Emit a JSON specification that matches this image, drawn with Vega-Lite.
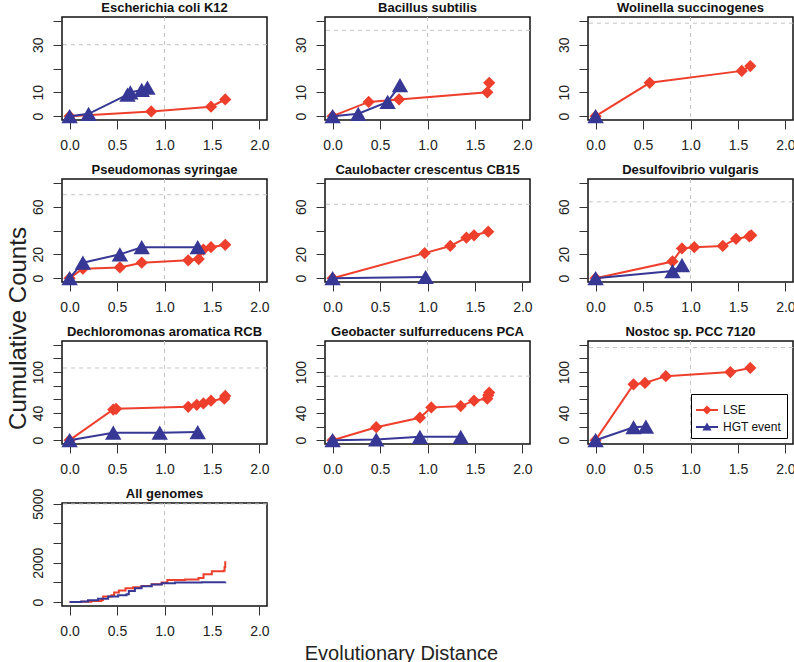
{
"$schema": "https://vega.github.io/schema/vega-lite/v6.json",
"padding": {"left": 5, "top": 0, "right": 0, "bottom": 0},
"background": "white",
"datasets": {
"refs": [
{"p":"E","x":1,"y":30},{"p":"B","x":1,"y":36},{"p":"W","x":1,"y":39},
{"p":"P","x":1,"y":70},{"p":"C","x":1,"y":62},{"p":"D","x":1,"y":64},
{"p":"De","x":1,"y":106},{"p":"G","x":1,"y":94},{"p":"N","x":1,"y":136},
{"p":"A","x":1,"y":4990}
],
"pts": [
{"p":"E","s":"LSE","x":0,"y":0},{"p":"E","s":"LSE","x":0.86,"y":2},{"p":"E","s":"LSE","x":1.49,"y":4},{"p":"E","s":"LSE","x":1.64,"y":7},
{"p":"E","s":"HGT event","x":0,"y":0},{"p":"E","s":"HGT event","x":0.2,"y":1},{"p":"E","s":"HGT event","x":0.61,"y":9},{"p":"E","s":"HGT event","x":0.64,"y":10},{"p":"E","s":"HGT event","x":0.76,"y":11},{"p":"E","s":"HGT event","x":0.82,"y":12},
{"p":"B","s":"LSE","x":0,"y":0},{"p":"B","s":"LSE","x":0.38,"y":6},{"p":"B","s":"LSE","x":0.7,"y":7},{"p":"B","s":"LSE","x":1.63,"y":10},{"p":"B","s":"LSE","x":1.65,"y":14},
{"p":"B","s":"HGT event","x":0,"y":0},{"p":"B","s":"HGT event","x":0.27,"y":1},{"p":"B","s":"HGT event","x":0.58,"y":6},{"p":"B","s":"HGT event","x":0.71,"y":13},
{"p":"W","s":"LSE","x":0,"y":0},{"p":"W","s":"LSE","x":0.57,"y":14},{"p":"W","s":"LSE","x":1.54,"y":19},{"p":"W","s":"LSE","x":1.63,"y":21},
{"p":"W","s":"HGT event","x":0,"y":0},
{"p":"P","s":"LSE","x":0,"y":0},{"p":"P","s":"LSE","x":0.14,"y":8},{"p":"P","s":"LSE","x":0.53,"y":9},{"p":"P","s":"LSE","x":0.76,"y":13},{"p":"P","s":"LSE","x":1.25,"y":15},{"p":"P","s":"LSE","x":1.36,"y":16},{"p":"P","s":"LSE","x":1.41,"y":24},{"p":"P","s":"LSE","x":1.49,"y":26},{"p":"P","s":"LSE","x":1.64,"y":28},
{"p":"P","s":"HGT event","x":0,"y":0},{"p":"P","s":"HGT event","x":0.14,"y":13},{"p":"P","s":"HGT event","x":0.53,"y":20},{"p":"P","s":"HGT event","x":0.76,"y":26},{"p":"P","s":"HGT event","x":1.35,"y":26},
{"p":"C","s":"LSE","x":0,"y":0},{"p":"C","s":"LSE","x":0.97,"y":21},{"p":"C","s":"LSE","x":1.24,"y":27},{"p":"C","s":"LSE","x":1.41,"y":34},{"p":"C","s":"LSE","x":1.49,"y":36},{"p":"C","s":"LSE","x":1.64,"y":39},
{"p":"C","s":"HGT event","x":0,"y":0},{"p":"C","s":"HGT event","x":0.98,"y":1},
{"p":"D","s":"LSE","x":0,"y":0},{"p":"D","s":"LSE","x":0.81,"y":14},{"p":"D","s":"LSE","x":0.91,"y":25},{"p":"D","s":"LSE","x":1.04,"y":26},{"p":"D","s":"LSE","x":1.34,"y":27},{"p":"D","s":"LSE","x":1.48,"y":33},{"p":"D","s":"LSE","x":1.62,"y":35},{"p":"D","s":"LSE","x":1.64,"y":36},
{"p":"D","s":"HGT event","x":0,"y":0},{"p":"D","s":"HGT event","x":0.81,"y":6},{"p":"D","s":"HGT event","x":0.91,"y":11},
{"p":"De","s":"LSE","x":0,"y":0},{"p":"De","s":"LSE","x":0.46,"y":45},{"p":"De","s":"LSE","x":0.49,"y":46},{"p":"De","s":"LSE","x":1.25,"y":49},{"p":"De","s":"LSE","x":1.34,"y":52},{"p":"De","s":"LSE","x":1.41,"y":54},{"p":"De","s":"LSE","x":1.49,"y":58},{"p":"De","s":"LSE","x":1.63,"y":61},{"p":"De","s":"LSE","x":1.64,"y":65},
{"p":"De","s":"HGT event","x":0,"y":0},{"p":"De","s":"HGT event","x":0.46,"y":11},{"p":"De","s":"HGT event","x":0.95,"y":11},{"p":"De","s":"HGT event","x":1.35,"y":12},
{"p":"G","s":"LSE","x":0,"y":0},{"p":"G","s":"LSE","x":0.46,"y":19},{"p":"G","s":"LSE","x":0.92,"y":33},{"p":"G","s":"LSE","x":1.04,"y":48},{"p":"G","s":"LSE","x":1.35,"y":50},{"p":"G","s":"LSE","x":1.49,"y":58},{"p":"G","s":"LSE","x":1.63,"y":61},{"p":"G","s":"LSE","x":1.64,"y":66},{"p":"G","s":"LSE","x":1.65,"y":70},
{"p":"G","s":"HGT event","x":0,"y":0},{"p":"G","s":"HGT event","x":0.46,"y":1},{"p":"G","s":"HGT event","x":0.92,"y":5},{"p":"G","s":"HGT event","x":1.35,"y":5},
{"p":"N","s":"LSE","x":0,"y":0},{"p":"N","s":"LSE","x":0.4,"y":82},{"p":"N","s":"LSE","x":0.52,"y":84},{"p":"N","s":"LSE","x":0.74,"y":94},{"p":"N","s":"LSE","x":1.42,"y":100},{"p":"N","s":"LSE","x":1.63,"y":106},
{"p":"N","s":"HGT event","x":0,"y":0},{"p":"N","s":"HGT event","x":0.4,"y":19},{"p":"N","s":"HGT event","x":0.53,"y":20},
{"p":"A","s":"LSE","x":0,"y":0},{"p":"A","s":"LSE","x":0.123,"y":17},{"p":"A","s":"LSE","x":0.229,"y":52},{"p":"A","s":"LSE","x":0.335,"y":105},{"p":"A","s":"LSE","x":0.353,"y":280},{"p":"A","s":"LSE","x":0.441,"y":350},{"p":"A","s":"LSE","x":0.469,"y":490},{"p":"A","s":"LSE","x":0.519,"y":594},{"p":"A","s":"LSE","x":0.589,"y":700},{"p":"A","s":"LSE","x":0.67,"y":752},{"p":"A","s":"LSE","x":0.758,"y":822},{"p":"A","s":"LSE","x":0.864,"y":909},{"p":"A","s":"LSE","x":0.97,"y":997},{"p":"A","s":"LSE","x":1.03,"y":1119},{"p":"A","s":"LSE","x":1.217,"y":1154},{"p":"A","s":"LSE","x":1.358,"y":1224},{"p":"A","s":"LSE","x":1.411,"y":1416},{"p":"A","s":"LSE","x":1.499,"y":1573},{"p":"A","s":"LSE","x":1.623,"y":1591},{"p":"A","s":"LSE","x":1.633,"y":1783},{"p":"A","s":"LSE","x":1.64,"y":2080},
{"p":"A","s":"HGT event","x":0,"y":0},{"p":"A","s":"HGT event","x":0.123,"y":35},{"p":"A","s":"HGT event","x":0.194,"y":87},{"p":"A","s":"HGT event","x":0.3,"y":175},{"p":"A","s":"HGT event","x":0.406,"y":280},{"p":"A","s":"HGT event","x":0.511,"y":350},{"p":"A","s":"HGT event","x":0.6,"y":402},{"p":"A","s":"HGT event","x":0.624,"y":559},{"p":"A","s":"HGT event","x":0.688,"y":700},{"p":"A","s":"HGT event","x":0.758,"y":804},{"p":"A","s":"HGT event","x":0.864,"y":892},{"p":"A","s":"HGT event","x":0.97,"y":962},{"p":"A","s":"HGT event","x":1.111,"y":997},{"p":"A","s":"HGT event","x":1.393,"y":1014},{"p":"A","s":"HGT event","x":1.64,"y":1031}
]
},
"columns": 3,
"bounds": "flush",
"spacing": {"row": 59, "column": 58},
"resolve": {"scale": {"color": "independent", "shape": "independent"}, "legend": {"color": "independent", "shape": "independent"}},
"concat": [
{"title":"Escherichia coli K12","width":205,"height":103,"layer":[
{"data":{"name":"refs"},"transform":[{"filter":"datum.p==='E'"}],"mark":{"type":"rule","stroke":"#c4c4c4","strokeDash":[4,4]},"encoding":{"x":{"field":"x","type":"quantitative","title":null,"scale":{"domain":[-0.08,2.08],"nice":false,"zero":false},"axis":{"values":[0,0.5,1,1.5,2],"format":".1f"}}}},
{"data":{"name":"refs"},"transform":[{"filter":"datum.p==='E'"}],"mark":{"type":"rule","stroke":"#c4c4c4","strokeDash":[4,4]},"encoding":{"y":{"field":"y","type":"quantitative","title":null,"scale":{"domain":[-1.6,41.6],"nice":false,"zero":false},"axis":{"values":[0,10,20,30,40],"labelExpr":"datum.value==20||datum.value==40?'':datum.label"}}}},
{"data":{"name":"pts"},"transform":[{"filter":"datum.p==='E'&&datum.s==='LSE'"}],"mark":{"type":"line","stroke":"#EE3F2D","strokeWidth":2},"encoding":{"x":{"field":"x","type":"quantitative","title":null,"scale":{"domain":[-0.08,2.08],"nice":false,"zero":false},"axis":{"values":[0,0.5,1,1.5,2],"format":".1f"}},"y":{"field":"y","type":"quantitative","title":null,"scale":{"domain":[-1.6,41.6],"nice":false,"zero":false},"axis":{"values":[0,10,20,30,40],"labelExpr":"datum.value==20||datum.value==40?'':datum.label"}}}},
{"data":{"name":"pts"},"transform":[{"filter":"datum.p==='E'&&datum.s==='LSE'"}],"mark":{"type":"point","shape":"diamond","filled":true,"size":150,"color":"#EE3F2D","opacity":1},"encoding":{"x":{"field":"x","type":"quantitative","title":null,"scale":{"domain":[-0.08,2.08],"nice":false,"zero":false},"axis":{"values":[0,0.5,1,1.5,2],"format":".1f"}},"y":{"field":"y","type":"quantitative","title":null,"scale":{"domain":[-1.6,41.6],"nice":false,"zero":false},"axis":{"values":[0,10,20,30,40],"labelExpr":"datum.value==20||datum.value==40?'':datum.label"}}}},
{"data":{"name":"pts"},"transform":[{"filter":"datum.p==='E'&&datum.s==='HGT event'"}],"mark":{"type":"line","stroke":"#373895","strokeWidth":2},"encoding":{"x":{"field":"x","type":"quantitative","title":null,"scale":{"domain":[-0.08,2.08],"nice":false,"zero":false},"axis":{"values":[0,0.5,1,1.5,2],"format":".1f"}},"y":{"field":"y","type":"quantitative","title":null,"scale":{"domain":[-1.6,41.6],"nice":false,"zero":false},"axis":{"values":[0,10,20,30,40],"labelExpr":"datum.value==20||datum.value==40?'':datum.label"}}}},
{"data":{"name":"pts"},"transform":[{"filter":"datum.p==='E'&&datum.s==='HGT event'"}],"mark":{"type":"point","shape":"triangle-up","filled":true,"size":270,"color":"#373895","opacity":1},"encoding":{"x":{"field":"x","type":"quantitative","title":null,"scale":{"domain":[-0.08,2.08],"nice":false,"zero":false},"axis":{"values":[0,0.5,1,1.5,2],"format":".1f"}},"y":{"field":"y","type":"quantitative","title":null,"scale":{"domain":[-1.6,41.6],"nice":false,"zero":false},"axis":{"values":[0,10,20,30,40],"labelExpr":"datum.value==20||datum.value==40?'':datum.label"}}}}
]},
{"title":"Bacillus subtilis","width":205,"height":103,"layer":[
{"data":{"name":"refs"},"transform":[{"filter":"datum.p==='B'"}],"mark":{"type":"rule","stroke":"#c4c4c4","strokeDash":[4,4]},"encoding":{"x":{"field":"x","type":"quantitative","title":null,"scale":{"domain":[-0.08,2.08],"nice":false,"zero":false},"axis":{"values":[0,0.5,1,1.5,2],"format":".1f"}}}},
{"data":{"name":"refs"},"transform":[{"filter":"datum.p==='B'"}],"mark":{"type":"rule","stroke":"#c4c4c4","strokeDash":[4,4]},"encoding":{"y":{"field":"y","type":"quantitative","title":null,"scale":{"domain":[-1.6,41.6],"nice":false,"zero":false},"axis":{"values":[0,10,20,30,40],"labelExpr":"datum.value==20||datum.value==40?'':datum.label"}}}},
{"data":{"name":"pts"},"transform":[{"filter":"datum.p==='B'&&datum.s==='LSE'"}],"mark":{"type":"line","stroke":"#EE3F2D","strokeWidth":2},"encoding":{"x":{"field":"x","type":"quantitative","title":null,"scale":{"domain":[-0.08,2.08],"nice":false,"zero":false},"axis":{"values":[0,0.5,1,1.5,2],"format":".1f"}},"y":{"field":"y","type":"quantitative","title":null,"scale":{"domain":[-1.6,41.6],"nice":false,"zero":false},"axis":{"values":[0,10,20,30,40],"labelExpr":"datum.value==20||datum.value==40?'':datum.label"}}}},
{"data":{"name":"pts"},"transform":[{"filter":"datum.p==='B'&&datum.s==='LSE'"}],"mark":{"type":"point","shape":"diamond","filled":true,"size":150,"color":"#EE3F2D","opacity":1},"encoding":{"x":{"field":"x","type":"quantitative","title":null,"scale":{"domain":[-0.08,2.08],"nice":false,"zero":false},"axis":{"values":[0,0.5,1,1.5,2],"format":".1f"}},"y":{"field":"y","type":"quantitative","title":null,"scale":{"domain":[-1.6,41.6],"nice":false,"zero":false},"axis":{"values":[0,10,20,30,40],"labelExpr":"datum.value==20||datum.value==40?'':datum.label"}}}},
{"data":{"name":"pts"},"transform":[{"filter":"datum.p==='B'&&datum.s==='HGT event'"}],"mark":{"type":"line","stroke":"#373895","strokeWidth":2},"encoding":{"x":{"field":"x","type":"quantitative","title":null,"scale":{"domain":[-0.08,2.08],"nice":false,"zero":false},"axis":{"values":[0,0.5,1,1.5,2],"format":".1f"}},"y":{"field":"y","type":"quantitative","title":null,"scale":{"domain":[-1.6,41.6],"nice":false,"zero":false},"axis":{"values":[0,10,20,30,40],"labelExpr":"datum.value==20||datum.value==40?'':datum.label"}}}},
{"data":{"name":"pts"},"transform":[{"filter":"datum.p==='B'&&datum.s==='HGT event'"}],"mark":{"type":"point","shape":"triangle-up","filled":true,"size":270,"color":"#373895","opacity":1},"encoding":{"x":{"field":"x","type":"quantitative","title":null,"scale":{"domain":[-0.08,2.08],"nice":false,"zero":false},"axis":{"values":[0,0.5,1,1.5,2],"format":".1f"}},"y":{"field":"y","type":"quantitative","title":null,"scale":{"domain":[-1.6,41.6],"nice":false,"zero":false},"axis":{"values":[0,10,20,30,40],"labelExpr":"datum.value==20||datum.value==40?'':datum.label"}}}}
]},
{"title":"Wolinella succinogenes","width":205,"height":103,"layer":[
{"data":{"name":"refs"},"transform":[{"filter":"datum.p==='W'"}],"mark":{"type":"rule","stroke":"#c4c4c4","strokeDash":[4,4]},"encoding":{"x":{"field":"x","type":"quantitative","title":null,"scale":{"domain":[-0.08,2.08],"nice":false,"zero":false},"axis":{"values":[0,0.5,1,1.5,2],"format":".1f"}}}},
{"data":{"name":"refs"},"transform":[{"filter":"datum.p==='W'"}],"mark":{"type":"rule","stroke":"#c4c4c4","strokeDash":[4,4]},"encoding":{"y":{"field":"y","type":"quantitative","title":null,"scale":{"domain":[-1.6,41.6],"nice":false,"zero":false},"axis":{"values":[0,10,20,30,40],"labelExpr":"datum.value==20||datum.value==40?'':datum.label"}}}},
{"data":{"name":"pts"},"transform":[{"filter":"datum.p==='W'&&datum.s==='LSE'"}],"mark":{"type":"line","stroke":"#EE3F2D","strokeWidth":2},"encoding":{"x":{"field":"x","type":"quantitative","title":null,"scale":{"domain":[-0.08,2.08],"nice":false,"zero":false},"axis":{"values":[0,0.5,1,1.5,2],"format":".1f"}},"y":{"field":"y","type":"quantitative","title":null,"scale":{"domain":[-1.6,41.6],"nice":false,"zero":false},"axis":{"values":[0,10,20,30,40],"labelExpr":"datum.value==20||datum.value==40?'':datum.label"}}}},
{"data":{"name":"pts"},"transform":[{"filter":"datum.p==='W'&&datum.s==='LSE'"}],"mark":{"type":"point","shape":"diamond","filled":true,"size":150,"color":"#EE3F2D","opacity":1},"encoding":{"x":{"field":"x","type":"quantitative","title":null,"scale":{"domain":[-0.08,2.08],"nice":false,"zero":false},"axis":{"values":[0,0.5,1,1.5,2],"format":".1f"}},"y":{"field":"y","type":"quantitative","title":null,"scale":{"domain":[-1.6,41.6],"nice":false,"zero":false},"axis":{"values":[0,10,20,30,40],"labelExpr":"datum.value==20||datum.value==40?'':datum.label"}}}},
{"data":{"name":"pts"},"transform":[{"filter":"datum.p==='W'&&datum.s==='HGT event'"}],"mark":{"type":"point","shape":"triangle-up","filled":true,"size":270,"color":"#373895","opacity":1},"encoding":{"x":{"field":"x","type":"quantitative","title":null,"scale":{"domain":[-0.08,2.08],"nice":false,"zero":false},"axis":{"values":[0,0.5,1,1.5,2],"format":".1f"}},"y":{"field":"y","type":"quantitative","title":null,"scale":{"domain":[-1.6,41.6],"nice":false,"zero":false},"axis":{"values":[0,10,20,30,40],"labelExpr":"datum.value==20||datum.value==40?'':datum.label"}}}}
]},
{"title":"Pseudomonas syringae","width":205,"height":103,"layer":[
{"data":{"name":"refs"},"transform":[{"filter":"datum.p==='P'"}],"mark":{"type":"rule","stroke":"#c4c4c4","strokeDash":[4,4]},"encoding":{"x":{"field":"x","type":"quantitative","title":null,"scale":{"domain":[-0.08,2.08],"nice":false,"zero":false},"axis":{"values":[0,0.5,1,1.5,2],"format":".1f"}}}},
{"data":{"name":"refs"},"transform":[{"filter":"datum.p==='P'"}],"mark":{"type":"rule","stroke":"#c4c4c4","strokeDash":[4,4]},"encoding":{"y":{"field":"y","type":"quantitative","title":"Cumulative Counts","scale":{"domain":[-3.2,83.2],"nice":false,"zero":false},"axis":{"values":[0,20,40,60,80],"labelExpr":"datum.value==40||datum.value==80?'':datum.label","titleX":-44,"titleY":149,"titleFontSize":24,"titleFontWeight":"normal","titleAngle":270,"titleAlign":"center","titleBaseline":"middle","titleColor":"#222"}}}},
{"data":{"name":"pts"},"transform":[{"filter":"datum.p==='P'&&datum.s==='LSE'"}],"mark":{"type":"line","stroke":"#EE3F2D","strokeWidth":2},"encoding":{"x":{"field":"x","type":"quantitative","title":null,"scale":{"domain":[-0.08,2.08],"nice":false,"zero":false},"axis":{"values":[0,0.5,1,1.5,2],"format":".1f"}},"y":{"field":"y","type":"quantitative","title":"Cumulative Counts","scale":{"domain":[-3.2,83.2],"nice":false,"zero":false},"axis":{"values":[0,20,40,60,80],"labelExpr":"datum.value==40||datum.value==80?'':datum.label","titleX":-44,"titleY":149,"titleFontSize":24,"titleFontWeight":"normal","titleAngle":270,"titleAlign":"center","titleBaseline":"middle","titleColor":"#222"}}}},
{"data":{"name":"pts"},"transform":[{"filter":"datum.p==='P'&&datum.s==='LSE'"}],"mark":{"type":"point","shape":"diamond","filled":true,"size":150,"color":"#EE3F2D","opacity":1},"encoding":{"x":{"field":"x","type":"quantitative","title":null,"scale":{"domain":[-0.08,2.08],"nice":false,"zero":false},"axis":{"values":[0,0.5,1,1.5,2],"format":".1f"}},"y":{"field":"y","type":"quantitative","title":"Cumulative Counts","scale":{"domain":[-3.2,83.2],"nice":false,"zero":false},"axis":{"values":[0,20,40,60,80],"labelExpr":"datum.value==40||datum.value==80?'':datum.label","titleX":-44,"titleY":149,"titleFontSize":24,"titleFontWeight":"normal","titleAngle":270,"titleAlign":"center","titleBaseline":"middle","titleColor":"#222"}}}},
{"data":{"name":"pts"},"transform":[{"filter":"datum.p==='P'&&datum.s==='HGT event'"}],"mark":{"type":"line","stroke":"#373895","strokeWidth":2},"encoding":{"x":{"field":"x","type":"quantitative","title":null,"scale":{"domain":[-0.08,2.08],"nice":false,"zero":false},"axis":{"values":[0,0.5,1,1.5,2],"format":".1f"}},"y":{"field":"y","type":"quantitative","title":"Cumulative Counts","scale":{"domain":[-3.2,83.2],"nice":false,"zero":false},"axis":{"values":[0,20,40,60,80],"labelExpr":"datum.value==40||datum.value==80?'':datum.label","titleX":-44,"titleY":149,"titleFontSize":24,"titleFontWeight":"normal","titleAngle":270,"titleAlign":"center","titleBaseline":"middle","titleColor":"#222"}}}},
{"data":{"name":"pts"},"transform":[{"filter":"datum.p==='P'&&datum.s==='HGT event'"}],"mark":{"type":"point","shape":"triangle-up","filled":true,"size":270,"color":"#373895","opacity":1},"encoding":{"x":{"field":"x","type":"quantitative","title":null,"scale":{"domain":[-0.08,2.08],"nice":false,"zero":false},"axis":{"values":[0,0.5,1,1.5,2],"format":".1f"}},"y":{"field":"y","type":"quantitative","title":"Cumulative Counts","scale":{"domain":[-3.2,83.2],"nice":false,"zero":false},"axis":{"values":[0,20,40,60,80],"labelExpr":"datum.value==40||datum.value==80?'':datum.label","titleX":-44,"titleY":149,"titleFontSize":24,"titleFontWeight":"normal","titleAngle":270,"titleAlign":"center","titleBaseline":"middle","titleColor":"#222"}}}}
]},
{"title":"Caulobacter crescentus CB15","width":205,"height":103,"layer":[
{"data":{"name":"refs"},"transform":[{"filter":"datum.p==='C'"}],"mark":{"type":"rule","stroke":"#c4c4c4","strokeDash":[4,4]},"encoding":{"x":{"field":"x","type":"quantitative","title":null,"scale":{"domain":[-0.08,2.08],"nice":false,"zero":false},"axis":{"values":[0,0.5,1,1.5,2],"format":".1f"}}}},
{"data":{"name":"refs"},"transform":[{"filter":"datum.p==='C'"}],"mark":{"type":"rule","stroke":"#c4c4c4","strokeDash":[4,4]},"encoding":{"y":{"field":"y","type":"quantitative","title":null,"scale":{"domain":[-3.2,83.2],"nice":false,"zero":false},"axis":{"values":[0,20,40,60,80],"labelExpr":"datum.value==40||datum.value==80?'':datum.label"}}}},
{"data":{"name":"pts"},"transform":[{"filter":"datum.p==='C'&&datum.s==='LSE'"}],"mark":{"type":"line","stroke":"#EE3F2D","strokeWidth":2},"encoding":{"x":{"field":"x","type":"quantitative","title":null,"scale":{"domain":[-0.08,2.08],"nice":false,"zero":false},"axis":{"values":[0,0.5,1,1.5,2],"format":".1f"}},"y":{"field":"y","type":"quantitative","title":null,"scale":{"domain":[-3.2,83.2],"nice":false,"zero":false},"axis":{"values":[0,20,40,60,80],"labelExpr":"datum.value==40||datum.value==80?'':datum.label"}}}},
{"data":{"name":"pts"},"transform":[{"filter":"datum.p==='C'&&datum.s==='LSE'"}],"mark":{"type":"point","shape":"diamond","filled":true,"size":150,"color":"#EE3F2D","opacity":1},"encoding":{"x":{"field":"x","type":"quantitative","title":null,"scale":{"domain":[-0.08,2.08],"nice":false,"zero":false},"axis":{"values":[0,0.5,1,1.5,2],"format":".1f"}},"y":{"field":"y","type":"quantitative","title":null,"scale":{"domain":[-3.2,83.2],"nice":false,"zero":false},"axis":{"values":[0,20,40,60,80],"labelExpr":"datum.value==40||datum.value==80?'':datum.label"}}}},
{"data":{"name":"pts"},"transform":[{"filter":"datum.p==='C'&&datum.s==='HGT event'"}],"mark":{"type":"line","stroke":"#373895","strokeWidth":2},"encoding":{"x":{"field":"x","type":"quantitative","title":null,"scale":{"domain":[-0.08,2.08],"nice":false,"zero":false},"axis":{"values":[0,0.5,1,1.5,2],"format":".1f"}},"y":{"field":"y","type":"quantitative","title":null,"scale":{"domain":[-3.2,83.2],"nice":false,"zero":false},"axis":{"values":[0,20,40,60,80],"labelExpr":"datum.value==40||datum.value==80?'':datum.label"}}}},
{"data":{"name":"pts"},"transform":[{"filter":"datum.p==='C'&&datum.s==='HGT event'"}],"mark":{"type":"point","shape":"triangle-up","filled":true,"size":270,"color":"#373895","opacity":1},"encoding":{"x":{"field":"x","type":"quantitative","title":null,"scale":{"domain":[-0.08,2.08],"nice":false,"zero":false},"axis":{"values":[0,0.5,1,1.5,2],"format":".1f"}},"y":{"field":"y","type":"quantitative","title":null,"scale":{"domain":[-3.2,83.2],"nice":false,"zero":false},"axis":{"values":[0,20,40,60,80],"labelExpr":"datum.value==40||datum.value==80?'':datum.label"}}}}
]},
{"title":"Desulfovibrio vulgaris","width":205,"height":103,"layer":[
{"data":{"name":"refs"},"transform":[{"filter":"datum.p==='D'"}],"mark":{"type":"rule","stroke":"#c4c4c4","strokeDash":[4,4]},"encoding":{"x":{"field":"x","type":"quantitative","title":null,"scale":{"domain":[-0.08,2.08],"nice":false,"zero":false},"axis":{"values":[0,0.5,1,1.5,2],"format":".1f"}}}},
{"data":{"name":"refs"},"transform":[{"filter":"datum.p==='D'"}],"mark":{"type":"rule","stroke":"#c4c4c4","strokeDash":[4,4]},"encoding":{"y":{"field":"y","type":"quantitative","title":null,"scale":{"domain":[-3.2,83.2],"nice":false,"zero":false},"axis":{"values":[0,20,40,60,80],"labelExpr":"datum.value==40||datum.value==80?'':datum.label"}}}},
{"data":{"name":"pts"},"transform":[{"filter":"datum.p==='D'&&datum.s==='LSE'"}],"mark":{"type":"line","stroke":"#EE3F2D","strokeWidth":2},"encoding":{"x":{"field":"x","type":"quantitative","title":null,"scale":{"domain":[-0.08,2.08],"nice":false,"zero":false},"axis":{"values":[0,0.5,1,1.5,2],"format":".1f"}},"y":{"field":"y","type":"quantitative","title":null,"scale":{"domain":[-3.2,83.2],"nice":false,"zero":false},"axis":{"values":[0,20,40,60,80],"labelExpr":"datum.value==40||datum.value==80?'':datum.label"}}}},
{"data":{"name":"pts"},"transform":[{"filter":"datum.p==='D'&&datum.s==='LSE'"}],"mark":{"type":"point","shape":"diamond","filled":true,"size":150,"color":"#EE3F2D","opacity":1},"encoding":{"x":{"field":"x","type":"quantitative","title":null,"scale":{"domain":[-0.08,2.08],"nice":false,"zero":false},"axis":{"values":[0,0.5,1,1.5,2],"format":".1f"}},"y":{"field":"y","type":"quantitative","title":null,"scale":{"domain":[-3.2,83.2],"nice":false,"zero":false},"axis":{"values":[0,20,40,60,80],"labelExpr":"datum.value==40||datum.value==80?'':datum.label"}}}},
{"data":{"name":"pts"},"transform":[{"filter":"datum.p==='D'&&datum.s==='HGT event'"}],"mark":{"type":"line","stroke":"#373895","strokeWidth":2},"encoding":{"x":{"field":"x","type":"quantitative","title":null,"scale":{"domain":[-0.08,2.08],"nice":false,"zero":false},"axis":{"values":[0,0.5,1,1.5,2],"format":".1f"}},"y":{"field":"y","type":"quantitative","title":null,"scale":{"domain":[-3.2,83.2],"nice":false,"zero":false},"axis":{"values":[0,20,40,60,80],"labelExpr":"datum.value==40||datum.value==80?'':datum.label"}}}},
{"data":{"name":"pts"},"transform":[{"filter":"datum.p==='D'&&datum.s==='HGT event'"}],"mark":{"type":"point","shape":"triangle-up","filled":true,"size":270,"color":"#373895","opacity":1},"encoding":{"x":{"field":"x","type":"quantitative","title":null,"scale":{"domain":[-0.08,2.08],"nice":false,"zero":false},"axis":{"values":[0,0.5,1,1.5,2],"format":".1f"}},"y":{"field":"y","type":"quantitative","title":null,"scale":{"domain":[-3.2,83.2],"nice":false,"zero":false},"axis":{"values":[0,20,40,60,80],"labelExpr":"datum.value==40||datum.value==80?'':datum.label"}}}}
]},
{"title":"Dechloromonas aromatica RCB","width":205,"height":103,"layer":[
{"data":{"name":"refs"},"transform":[{"filter":"datum.p==='De'"}],"mark":{"type":"rule","stroke":"#c4c4c4","strokeDash":[4,4]},"encoding":{"x":{"field":"x","type":"quantitative","title":null,"scale":{"domain":[-0.08,2.08],"nice":false,"zero":false},"axis":{"values":[0,0.5,1,1.5,2],"format":".1f"}}}},
{"data":{"name":"refs"},"transform":[{"filter":"datum.p==='De'"}],"mark":{"type":"rule","stroke":"#c4c4c4","strokeDash":[4,4]},"encoding":{"y":{"field":"y","type":"quantitative","title":null,"scale":{"domain":[-5.6,145.6],"nice":false,"zero":false},"axis":{"values":[0,20,40,60,80,100,120,140],"labelExpr":"datum.value==0||datum.value==40||datum.value==100?datum.label:''"}}}},
{"data":{"name":"pts"},"transform":[{"filter":"datum.p==='De'&&datum.s==='LSE'"}],"mark":{"type":"line","stroke":"#EE3F2D","strokeWidth":2},"encoding":{"x":{"field":"x","type":"quantitative","title":null,"scale":{"domain":[-0.08,2.08],"nice":false,"zero":false},"axis":{"values":[0,0.5,1,1.5,2],"format":".1f"}},"y":{"field":"y","type":"quantitative","title":null,"scale":{"domain":[-5.6,145.6],"nice":false,"zero":false},"axis":{"values":[0,20,40,60,80,100,120,140],"labelExpr":"datum.value==0||datum.value==40||datum.value==100?datum.label:''"}}}},
{"data":{"name":"pts"},"transform":[{"filter":"datum.p==='De'&&datum.s==='LSE'"}],"mark":{"type":"point","shape":"diamond","filled":true,"size":150,"color":"#EE3F2D","opacity":1},"encoding":{"x":{"field":"x","type":"quantitative","title":null,"scale":{"domain":[-0.08,2.08],"nice":false,"zero":false},"axis":{"values":[0,0.5,1,1.5,2],"format":".1f"}},"y":{"field":"y","type":"quantitative","title":null,"scale":{"domain":[-5.6,145.6],"nice":false,"zero":false},"axis":{"values":[0,20,40,60,80,100,120,140],"labelExpr":"datum.value==0||datum.value==40||datum.value==100?datum.label:''"}}}},
{"data":{"name":"pts"},"transform":[{"filter":"datum.p==='De'&&datum.s==='HGT event'"}],"mark":{"type":"line","stroke":"#373895","strokeWidth":2},"encoding":{"x":{"field":"x","type":"quantitative","title":null,"scale":{"domain":[-0.08,2.08],"nice":false,"zero":false},"axis":{"values":[0,0.5,1,1.5,2],"format":".1f"}},"y":{"field":"y","type":"quantitative","title":null,"scale":{"domain":[-5.6,145.6],"nice":false,"zero":false},"axis":{"values":[0,20,40,60,80,100,120,140],"labelExpr":"datum.value==0||datum.value==40||datum.value==100?datum.label:''"}}}},
{"data":{"name":"pts"},"transform":[{"filter":"datum.p==='De'&&datum.s==='HGT event'"}],"mark":{"type":"point","shape":"triangle-up","filled":true,"size":270,"color":"#373895","opacity":1},"encoding":{"x":{"field":"x","type":"quantitative","title":null,"scale":{"domain":[-0.08,2.08],"nice":false,"zero":false},"axis":{"values":[0,0.5,1,1.5,2],"format":".1f"}},"y":{"field":"y","type":"quantitative","title":null,"scale":{"domain":[-5.6,145.6],"nice":false,"zero":false},"axis":{"values":[0,20,40,60,80,100,120,140],"labelExpr":"datum.value==0||datum.value==40||datum.value==100?datum.label:''"}}}}
]},
{"title":"Geobacter sulfurreducens PCA","width":205,"height":103,"layer":[
{"data":{"name":"refs"},"transform":[{"filter":"datum.p==='G'"}],"mark":{"type":"rule","stroke":"#c4c4c4","strokeDash":[4,4]},"encoding":{"x":{"field":"x","type":"quantitative","title":null,"scale":{"domain":[-0.08,2.08],"nice":false,"zero":false},"axis":{"values":[0,0.5,1,1.5,2],"format":".1f"}}}},
{"data":{"name":"refs"},"transform":[{"filter":"datum.p==='G'"}],"mark":{"type":"rule","stroke":"#c4c4c4","strokeDash":[4,4]},"encoding":{"y":{"field":"y","type":"quantitative","title":null,"scale":{"domain":[-5.6,145.6],"nice":false,"zero":false},"axis":{"values":[0,20,40,60,80,100,120,140],"labelExpr":"datum.value==0||datum.value==40||datum.value==100?datum.label:''"}}}},
{"data":{"name":"pts"},"transform":[{"filter":"datum.p==='G'&&datum.s==='LSE'"}],"mark":{"type":"line","stroke":"#EE3F2D","strokeWidth":2},"encoding":{"x":{"field":"x","type":"quantitative","title":null,"scale":{"domain":[-0.08,2.08],"nice":false,"zero":false},"axis":{"values":[0,0.5,1,1.5,2],"format":".1f"}},"y":{"field":"y","type":"quantitative","title":null,"scale":{"domain":[-5.6,145.6],"nice":false,"zero":false},"axis":{"values":[0,20,40,60,80,100,120,140],"labelExpr":"datum.value==0||datum.value==40||datum.value==100?datum.label:''"}}}},
{"data":{"name":"pts"},"transform":[{"filter":"datum.p==='G'&&datum.s==='LSE'"}],"mark":{"type":"point","shape":"diamond","filled":true,"size":150,"color":"#EE3F2D","opacity":1},"encoding":{"x":{"field":"x","type":"quantitative","title":null,"scale":{"domain":[-0.08,2.08],"nice":false,"zero":false},"axis":{"values":[0,0.5,1,1.5,2],"format":".1f"}},"y":{"field":"y","type":"quantitative","title":null,"scale":{"domain":[-5.6,145.6],"nice":false,"zero":false},"axis":{"values":[0,20,40,60,80,100,120,140],"labelExpr":"datum.value==0||datum.value==40||datum.value==100?datum.label:''"}}}},
{"data":{"name":"pts"},"transform":[{"filter":"datum.p==='G'&&datum.s==='HGT event'"}],"mark":{"type":"line","stroke":"#373895","strokeWidth":2},"encoding":{"x":{"field":"x","type":"quantitative","title":null,"scale":{"domain":[-0.08,2.08],"nice":false,"zero":false},"axis":{"values":[0,0.5,1,1.5,2],"format":".1f"}},"y":{"field":"y","type":"quantitative","title":null,"scale":{"domain":[-5.6,145.6],"nice":false,"zero":false},"axis":{"values":[0,20,40,60,80,100,120,140],"labelExpr":"datum.value==0||datum.value==40||datum.value==100?datum.label:''"}}}},
{"data":{"name":"pts"},"transform":[{"filter":"datum.p==='G'&&datum.s==='HGT event'"}],"mark":{"type":"point","shape":"triangle-up","filled":true,"size":270,"color":"#373895","opacity":1},"encoding":{"x":{"field":"x","type":"quantitative","title":null,"scale":{"domain":[-0.08,2.08],"nice":false,"zero":false},"axis":{"values":[0,0.5,1,1.5,2],"format":".1f"}},"y":{"field":"y","type":"quantitative","title":null,"scale":{"domain":[-5.6,145.6],"nice":false,"zero":false},"axis":{"values":[0,20,40,60,80,100,120,140],"labelExpr":"datum.value==0||datum.value==40||datum.value==100?datum.label:''"}}}}
]},
{"title":"Nostoc sp. PCC 7120","width":205,"height":103,"layer":[
{"data":{"name":"refs"},"transform":[{"filter":"datum.p==='N'"}],"mark":{"type":"rule","stroke":"#c4c4c4","strokeDash":[4,4]},"encoding":{"x":{"field":"x","type":"quantitative","title":null,"scale":{"domain":[-0.08,2.08],"nice":false,"zero":false},"axis":{"values":[0,0.5,1,1.5,2],"format":".1f"}}}},
{"data":{"name":"refs"},"transform":[{"filter":"datum.p==='N'"}],"mark":{"type":"rule","stroke":"#c4c4c4","strokeDash":[4,4]},"encoding":{"y":{"field":"y","type":"quantitative","title":null,"scale":{"domain":[-5.6,145.6],"nice":false,"zero":false},"axis":{"values":[0,20,40,60,80,100,120,140],"labelExpr":"datum.value==0||datum.value==40||datum.value==100?datum.label:''"}}}},
{"data":{"name":"pts"},"transform":[{"filter":"datum.p==='N'&&datum.s==='LSE'"}],"mark":{"type":"line","stroke":"#EE3F2D","strokeWidth":2},"encoding":{"x":{"field":"x","type":"quantitative","title":null,"scale":{"domain":[-0.08,2.08],"nice":false,"zero":false},"axis":{"values":[0,0.5,1,1.5,2],"format":".1f"}},"y":{"field":"y","type":"quantitative","title":null,"scale":{"domain":[-5.6,145.6],"nice":false,"zero":false},"axis":{"values":[0,20,40,60,80,100,120,140],"labelExpr":"datum.value==0||datum.value==40||datum.value==100?datum.label:''"}}}},
{"data":{"name":"pts"},"transform":[{"filter":"datum.p==='N'&&datum.s==='LSE'"}],"mark":{"type":"point","shape":"diamond","filled":true,"size":150,"color":"#EE3F2D","opacity":1},"encoding":{"x":{"field":"x","type":"quantitative","title":null,"scale":{"domain":[-0.08,2.08],"nice":false,"zero":false},"axis":{"values":[0,0.5,1,1.5,2],"format":".1f"}},"y":{"field":"y","type":"quantitative","title":null,"scale":{"domain":[-5.6,145.6],"nice":false,"zero":false},"axis":{"values":[0,20,40,60,80,100,120,140],"labelExpr":"datum.value==0||datum.value==40||datum.value==100?datum.label:''"}}}},
{"data":{"name":"pts"},"transform":[{"filter":"datum.p==='N'&&datum.s==='HGT event'"}],"mark":{"type":"line","stroke":"#373895","strokeWidth":2},"encoding":{"x":{"field":"x","type":"quantitative","title":null,"scale":{"domain":[-0.08,2.08],"nice":false,"zero":false},"axis":{"values":[0,0.5,1,1.5,2],"format":".1f"}},"y":{"field":"y","type":"quantitative","title":null,"scale":{"domain":[-5.6,145.6],"nice":false,"zero":false},"axis":{"values":[0,20,40,60,80,100,120,140],"labelExpr":"datum.value==0||datum.value==40||datum.value==100?datum.label:''"}}}},
{"data":{"name":"pts"},"transform":[{"filter":"datum.p==='N'&&datum.s==='HGT event'"}],"mark":{"type":"point","shape":"triangle-up","filled":true,"size":270,"color":"#373895","opacity":1},"encoding":{"x":{"field":"x","type":"quantitative","title":null,"scale":{"domain":[-0.08,2.08],"nice":false,"zero":false},"axis":{"values":[0,0.5,1,1.5,2],"format":".1f"}},"y":{"field":"y","type":"quantitative","title":null,"scale":{"domain":[-5.6,145.6],"nice":false,"zero":false},"axis":{"values":[0,20,40,60,80,100,120,140],"labelExpr":"datum.value==0||datum.value==40||datum.value==100?datum.label:''"}}}},
{"data":{"name":"pts"},"transform":[{"filter":"datum.p==='none'"}],"mark":{"type":"point","filled":true,"opacity":1},"encoding":{"x":{"field":"x","type":"quantitative","title":null,"scale":{"domain":[-0.08,2.08],"nice":false,"zero":false},"axis":{"values":[0,0.5,1,1.5,2],"format":".1f"}},"y":{"field":"y","type":"quantitative","title":null,"scale":{"domain":[-5.6,145.6],"nice":false,"zero":false},"axis":{"values":[0,20,40,60,80,100,120,140],"labelExpr":"datum.value==0||datum.value==40||datum.value==100?datum.label:''"}},
"color":{"field":"s","type":"nominal","title":null,"scale":{"domain":["LSE","HGT event"],"range":["#EE3F2D","#373895"]},"legend":{"orient":"bottom-right","offset":6,"strokeColor":"black","fillColor":"white","padding":5,"labelFontSize":12,"labelColor":"#111","symbolSize":484,"symbolStrokeWidth":0,"labelOffset":5,"rowPadding":0,"cornerRadius":0}},
"shape":{"field":"s","type":"nominal","title":null,"scale":{"domain":["LSE","HGT event"],"range":["M-1,-0.09L1,-0.09L1,0.09L-1,0.09Z M-0.42,0L0,-0.42L0.42,0L0,0.42Z","M-1,-0.09L1,-0.09L1,0.09L-1,0.09Z M-0.42,0.32L0,-0.42L0.42,0.32Z"]},"legend":{"orient":"bottom-right","offset":6,"strokeColor":"black","fillColor":"white","padding":5,"labelFontSize":12,"labelColor":"#111","symbolSize":484,"symbolStrokeWidth":0,"labelOffset":5,"rowPadding":0,"cornerRadius":0}}}}
]},
{"title":{"text":"All genomes","dy":15},"width":205,"height":103,"layer":[
{"data":{"name":"refs"},"transform":[{"filter":"datum.p==='A'"}],"mark":{"type":"rule","stroke":"#c4c4c4","strokeDash":[4,4]},"encoding":{"x":{"field":"x","type":"quantitative","title":"Evolutionary Distance","scale":{"domain":[-0.08,2.08],"nice":false,"zero":false},"axis":{"values":[0,0.5,1,1.5,2],"format":".1f","titleX":339,"titleY":47,"titleFontSize":20,"titleFontWeight":"normal","titleAlign":"center","titleBaseline":"middle","titleColor":"#222"}}}},
{"data":{"name":"refs"},"transform":[{"filter":"datum.p==='A'"}],"mark":{"type":"rule","stroke":"#c4c4c4","strokeDash":[4,4]},"encoding":{"y":{"field":"y","type":"quantitative","title":null,"scale":{"domain":[-200,5040],"nice":false,"zero":false},"axis":{"values":[0,1000,2000,3000,4000,5000],"labelExpr":"datum.value==0||datum.value==2000||datum.value==5000?datum.label:''","format":"d"}}}},
{"data":{"name":"pts"},"transform":[{"filter":"datum.p==='A'&&datum.s==='LSE'"}],"mark":{"type":"line","stroke":"#EE3F2D","strokeWidth":2,"interpolate":"step-after"},"encoding":{"x":{"field":"x","type":"quantitative","title":"Evolutionary Distance","scale":{"domain":[-0.08,2.08],"nice":false,"zero":false},"axis":{"values":[0,0.5,1,1.5,2],"format":".1f","titleX":339,"titleY":47,"titleFontSize":20,"titleFontWeight":"normal","titleAlign":"center","titleBaseline":"middle","titleColor":"#222"}},"y":{"field":"y","type":"quantitative","title":null,"scale":{"domain":[-200,5040],"nice":false,"zero":false},"axis":{"values":[0,1000,2000,3000,4000,5000],"labelExpr":"datum.value==0||datum.value==2000||datum.value==5000?datum.label:''","format":"d"}}}},
{"data":{"name":"pts"},"transform":[{"filter":"datum.p==='A'&&datum.s==='HGT event'"}],"mark":{"type":"line","stroke":"#373895","strokeWidth":2,"interpolate":"step-after"},"encoding":{"x":{"field":"x","type":"quantitative","title":"Evolutionary Distance","scale":{"domain":[-0.08,2.08],"nice":false,"zero":false},"axis":{"values":[0,0.5,1,1.5,2],"format":".1f","titleX":339,"titleY":47,"titleFontSize":20,"titleFontWeight":"normal","titleAlign":"center","titleBaseline":"middle","titleColor":"#222"}},"y":{"field":"y","type":"quantitative","title":null,"scale":{"domain":[-200,5040],"nice":false,"zero":false},"axis":{"values":[0,1000,2000,3000,4000,5000],"labelExpr":"datum.value==0||datum.value==2000||datum.value==5000?datum.label:''","format":"d"}}}}
]}
],
"config": {
"font": "Liberation Sans",
"view": {"stroke": "#111", "strokeWidth": 1.5},
"axis": {"domain": false, "grid": false, "tickColor": "#333", "tickSize": 9, "tickWidth": 1, "labelFontSize": 14, "labelColor": "#222", "labelFlush": false, "labelOverlap": false, "labelFont": "Liberation Sans", "titleFont": "Liberation Sans"},
"axisX": {"labelPadding": 9},
"axisY": {"labelAngle": 270, "labelAlign": "center", "labelBaseline": "middle", "labelPadding": 15},
"title": {"fontSize": 13, "fontWeight": "bold", "offset": 2, "anchor": "middle", "frame": "group", "color": "#111", "font": "Liberation Sans"},
"legend": {"labelFont": "Liberation Sans"}
}
}
